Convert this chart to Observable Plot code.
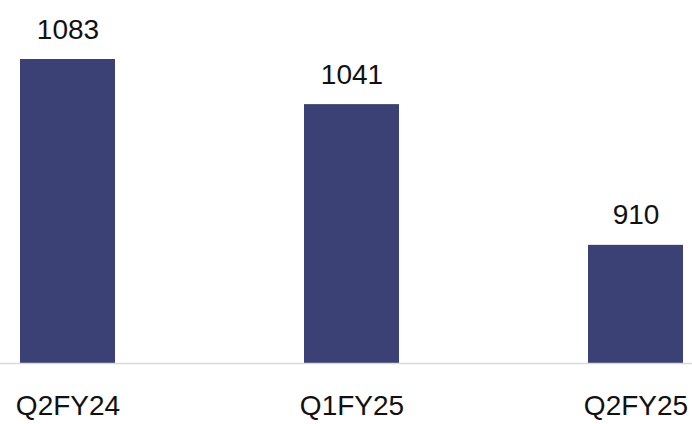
<!DOCTYPE html>
<html>
<head>
<meta charset="utf-8">
<script src="https://cdn.jsdelivr.net/npm/d3@7"></script>
<script src="https://cdn.jsdelivr.net/npm/@observablehq/plot@0.6"></script>
<style>
  html, body { margin: 0; padding: 0; background: #fff; }
  #chart { width: 692px; height: 424px; }
</style>
</head>
<body>
<div id="chart"></div>
<script>
const periods = ["Q2FY24", "Q1FY25", "Q2FY25"];
const values = [1083, 1041, 910];
const axisFloor = 800;

const data = periods.map((p, i) => ({period: p, value: values[i]}));

const chart = Plot.plot({
  width: 692,
  height: 424,
  marginTop: 59,
  marginBottom: 61,
  marginLeft: 0,
  marginRight: 0,
  style: {fontFamily: "'Liberation Sans', Arial, sans-serif", fontSize: "28px", color: "#111", background: "#fff"},
  x: {domain: periods, range: [19, 683], paddingInner: 0.666, paddingOuter: 0, label: null},
  y: {domain: [axisFloor, d3.max(values)], axis: null},
  marks: [
    Plot.barY(data, {x: "period", y1: axisFloor, y2: "value", fill: "#3b4174"}),
    Plot.ruleY([axisFloor], {stroke: "#d9d9d9", strokeWidth: 1.5}),
    Plot.text(data, {x: "period", y: "value", text: d => String(d.value), lineAnchor: "bottom", dy: -21, fontSize: 28, fill: "#111"}),
    Plot.axisX({tickSize: 0, tickPadding: 32, fontSize: 28, label: null, fill: "#111"})
  ]
});
document.getElementById("chart").appendChild(chart);
</script>
</body>
</html>
